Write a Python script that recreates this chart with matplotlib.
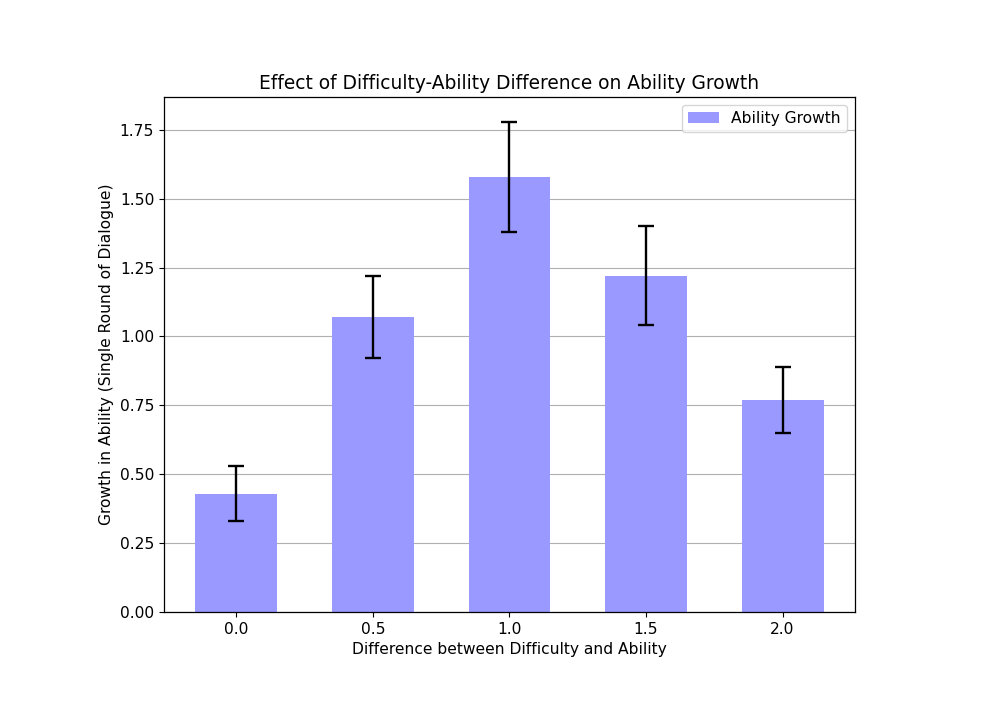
"""Difficulty-ability difference vs ability growth bar chart"""

import matplotlib
matplotlib.use("Agg")
import matplotlib.pyplot as plt

differences = [0.0, 0.5, 1.0, 1.5, 2.0]
growth = [0.43, 1.07, 1.58, 1.22, 0.77]
growth_err = [0.10, 0.15, 0.20, 0.18, 0.12]

plt.rcParams["font.size"] = 11.2
plt.rcParams["axes.linewidth"] = 0.9

fig = plt.figure(figsize=(9.97, 7.04), dpi=100)
ax = fig.add_axes([0.1645, 0.1307, 0.693, 0.7315])

ax.bar(differences, growth, width=0.3, color="#9999ff",
       yerr=growth_err, capsize=6, label="Ability Growth",
       error_kw={"ecolor": "black", "elinewidth": 1.7, "capthick": 1.7})
ax.set_xticks(differences)
ax.set_xlabel("Difference between Difficulty and Ability")
ax.set_ylabel("Growth in Ability (Single Round of Dialogue)")
ax.set_title("Effect of Difficulty-Ability Difference on Ability Growth", fontsize=13.4)
ax.yaxis.grid(True)
ax.set_axisbelow(True)
ax.legend(loc="upper right")

fig.savefig("out.png")
plt.close(fig)
